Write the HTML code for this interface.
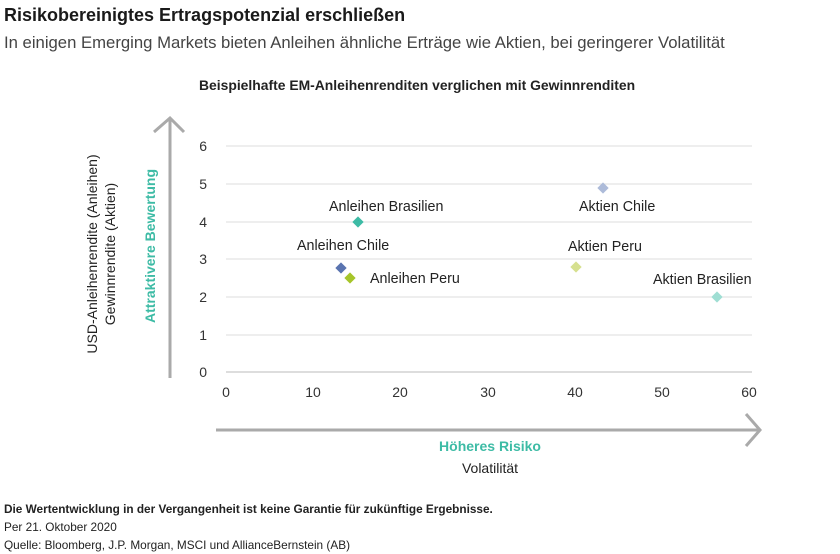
<!DOCTYPE html>
<html><head><meta charset="utf-8"><style>
body{margin:0;width:840px;height:554px;background:#fff;font-family:"Liberation Sans",sans-serif;color:#222;position:relative;overflow:hidden}
.t{position:absolute;white-space:nowrap}
</style></head><body>
<div class="t" style="left:4px;top:5px;font-size:18px;font-weight:bold;color:#1a1a1a">Risikobereinigtes Ertragspotenzial erschließen</div>
<div class="t" style="left:4px;top:33px;font-size:16.7px;color:#444">In einigen Emerging Markets bieten Anleihen ähnliche Erträge wie Aktien, bei geringerer Volatilität</div>
<div class="t" style="left:199px;top:77px;font-size:13.9px;font-weight:bold">Beispielhafte EM-Anleihenrenditen verglichen mit Gewinnrenditen</div>
<svg width="840" height="554" style="position:absolute;left:0;top:0" font-family="Liberation Sans, sans-serif">
<g stroke="#ddd" stroke-width="1">
<line x1="226" y1="146" x2="752" y2="146"/><line x1="226" y1="184" x2="752" y2="184"/><line x1="226" y1="222" x2="752" y2="222"/><line x1="226" y1="259" x2="752" y2="259"/><line x1="226" y1="297" x2="752" y2="297"/><line x1="226" y1="335" x2="752" y2="335"/>
</g>
<line x1="226" y1="372" x2="752" y2="372" stroke="#bbb"/>
<g font-size="14" fill="#333" text-anchor="end">
<text x="207" y="151">6</text><text x="207" y="189">5</text><text x="207" y="227">4</text><text x="207" y="264">3</text><text x="207" y="302">2</text><text x="207" y="340">1</text><text x="207" y="377">0</text>
</g>
<g font-size="14" fill="#333" text-anchor="middle">
<text x="226" y="397">0</text><text x="313" y="397">10</text><text x="400" y="397">20</text><text x="488" y="397">30</text><text x="575" y="397">40</text><text x="662" y="397">50</text><text x="749" y="397">60</text>
</g>
<g stroke="#aaa" stroke-width="3" fill="none">
<line x1="170" y1="378" x2="170" y2="120"/><polyline points="154,132 170,118 184,132"/>
<line x1="216" y1="430" x2="758" y2="430"/><polyline points="746,414 760,430 746,446"/>
</g>
<g>
<rect x="354" y="218" width="8" height="8" fill="#3dbba5" transform="rotate(45 358 222)"/>
<rect x="337" y="264" width="8" height="8" fill="#5a74b0" transform="rotate(45 341 268)"/>
<rect x="346" y="274" width="8" height="8" fill="#a6c52a" transform="rotate(45 350 278)"/>
<rect x="599" y="184" width="8" height="8" fill="#adbbd9" transform="rotate(45 603 188)"/>
<rect x="572" y="263" width="8" height="8" fill="#d6e08f" transform="rotate(45 576 267)"/>
<rect x="713" y="293" width="8" height="8" fill="#9fded3" transform="rotate(45 717 297)"/>
</g>
<g font-size="14.3" fill="#222">
<text x="329" y="211">Anleihen Brasilien</text>
<text x="297" y="250">Anleihen Chile</text>
<text x="370" y="283">Anleihen Peru</text>
<text x="579" y="211">Aktien Chile</text>
<text x="568" y="251">Aktien Peru</text>
<text x="653" y="284">Aktien Brasilien</text>
</g>
<text x="0" y="0" font-size="14" font-weight="bold" fill="#3dbba5" text-anchor="middle" transform="translate(155 246) rotate(-90)">Attraktivere Bewertung</text>
<text x="0" y="0" font-size="14" fill="#222" text-anchor="middle" transform="translate(97 254) rotate(-90)">USD-Anleihenrendite (Anleihen)</text>
<text x="0" y="0" font-size="14" fill="#222" text-anchor="middle" transform="translate(115 254) rotate(-90)">Gewinnrendite (Aktien)</text>
<text x="490" y="451" font-size="14" font-weight="bold" fill="#3dbba5" text-anchor="middle">Höheres Risiko</text>
<text x="490" y="473" font-size="14" fill="#222" text-anchor="middle">Volatilität</text>
</svg>
<div class="t" style="left:4px;top:502px;font-size:11.8px;font-weight:bold">Die Wertentwicklung in der Vergangenheit ist keine Garantie für zukünftige Ergebnisse.</div>
<div class="t" style="left:4px;top:520px;font-size:11.8px">Per 21. Oktober 2020</div>
<div class="t" style="left:4px;top:538px;font-size:11.8px">Quelle: Bloomberg, J.P. Morgan, MSCI und AllianceBernstein (AB)</div>
</body></html>
